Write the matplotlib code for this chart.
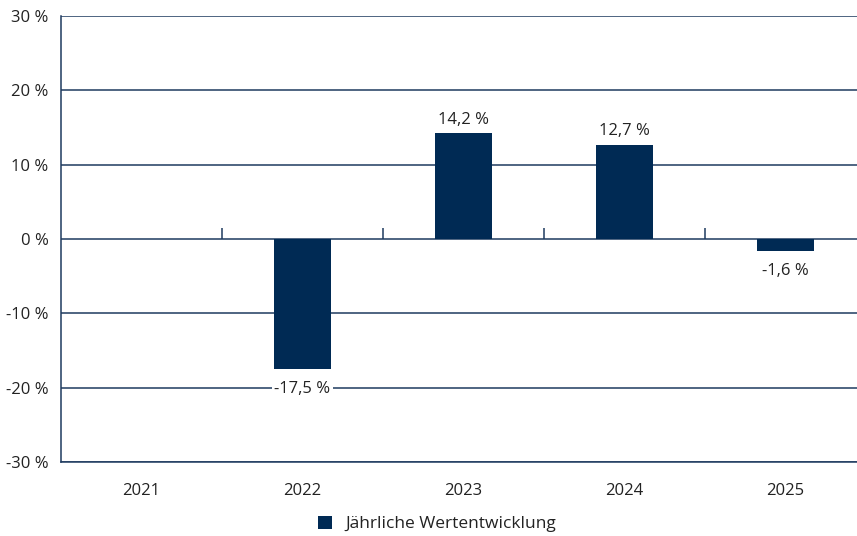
import matplotlib.pyplot as plt
from matplotlib.patches import Patch

# Chart data
years = ['2021', '2022', '2023', '2024', '2025']
values = [None, -17.5, 14.2, 12.7, -1.6]
y_ticks = [-30, -20, -10, 0, 10, 20, 30]
legend_label = 'Jährliche Wertentwicklung'

navy = '#002a54'
grid_col = '#1e3a5f'
text_col = '#222222'

plt.rcParams['font.family'] = ['Open Sans', 'DejaVu Sans']

fig = plt.figure(figsize=(8.57, 5.36), dpi=100)
# the plot area runs a bit past the right edge of the picture
ax = fig.add_axes([61 / 857, 74 / 536, 805 / 857, 446 / 536])

x = list(range(len(years)))
for xi, v in zip(x, values):
    if v is None:
        continue
    ax.bar(xi, v, width=0.355, color=navy, zorder=3)
    lbl = f'{v:.1f}'.replace('.', ',') + ' %'
    if v >= 0:
        ax.annotate(lbl, (xi, v), xytext=(0, 4), textcoords='offset points',
                    ha='center', va='bottom', fontsize=12, color=text_col)
    else:
        ax.annotate(lbl, (xi, v), xytext=(0, -8.5), textcoords='offset points',
                    ha='center', va='top', fontsize=12, color=text_col,
                    bbox=dict(boxstyle='square,pad=0.15', fc='white', ec='none'),
                    zorder=4)

# grid lines
for yv in y_ticks:
    ax.axhline(yv, color=grid_col, lw=1.1, zorder=1)

# small ticks on the zero line between categories
ax.vlines([0.5, 1.5, 2.5, 3.5], 0, 1.5, color=grid_col, lw=1.1, zorder=2)

ax.set_xlim(-0.5, 4.5)
ax.set_ylim(-30, 30)
ax.set_xticks(x)
ax.set_xticklabels(years)
ax.set_yticks(y_ticks)
ax.set_yticklabels([f'{t} %' for t in y_ticks])
ax.tick_params(axis='both', length=0, labelsize=12, colors=text_col)
ax.tick_params(axis='x', pad=15)
ax.tick_params(axis='y', pad=9)

for side in ['top', 'right']:
    ax.spines[side].set_visible(False)
ax.spines['left'].set_color(grid_col)
ax.spines['bottom'].set_color(grid_col)
ax.spines['left'].set_linewidth(1.1)
ax.spines['bottom'].set_linewidth(1.1)

handle = Patch(facecolor=navy, edgecolor='none')
fig.legend([handle], [legend_label], loc='center', bbox_to_anchor=(437 / 857, 12 / 536),
           frameon=False, fontsize=12.5, handlelength=0.8, handleheight=0.8,
           labelcolor=text_col, handletextpad=0.8)

fig.savefig('out.png', dpi=100)
